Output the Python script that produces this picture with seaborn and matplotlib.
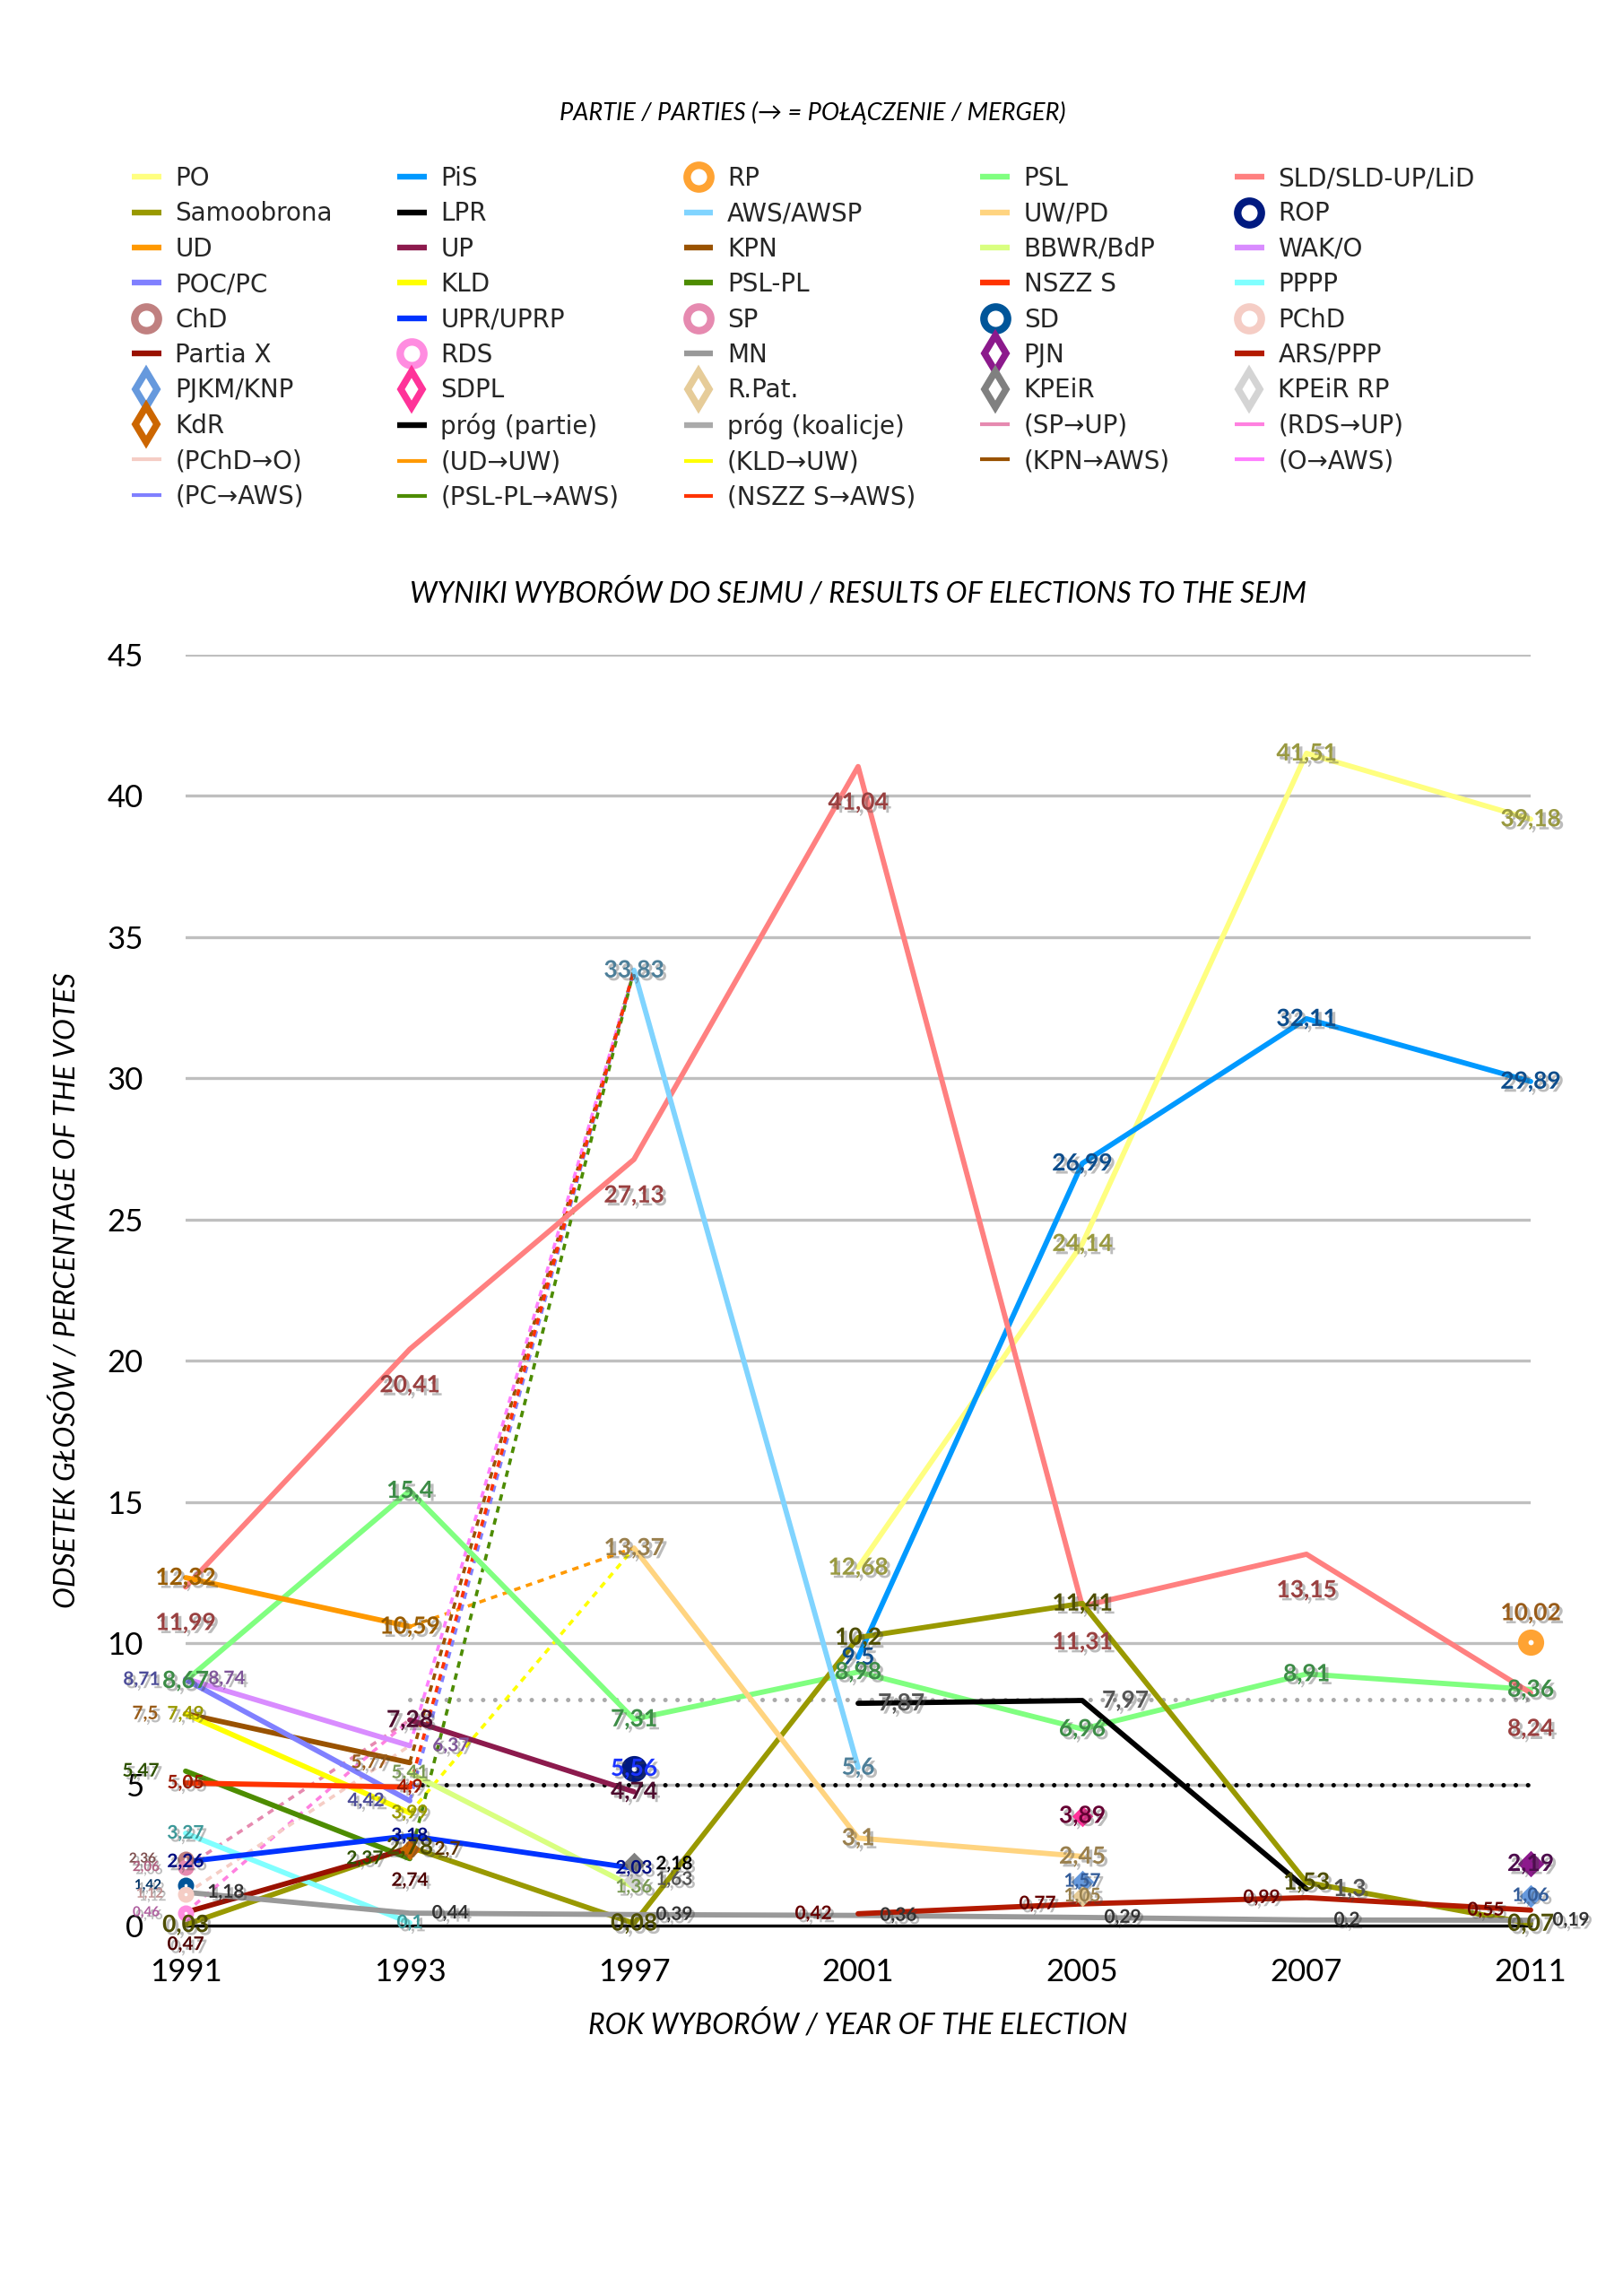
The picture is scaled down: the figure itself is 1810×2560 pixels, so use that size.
import matplotlib
matplotlib.use("Agg")
import matplotlib.pyplot as plt
import matplotlib.patheffects as pe
from matplotlib.lines import Line2D
from matplotlib import font_manager
import pandas as pd
import seaborn as sns

# --- data: percentage of votes, one slot per election year (None = did not run) ---
years = [1991, 1993, 1997, 2001, 2005, 2007, 2011]

po = [None, None, None, 12.68, 24.14, 41.51, 39.18]
pis = [None, None, None, 9.5, 26.99, 32.11, 29.89]
psl = [8.67, 15.4, 7.31, 8.98, 6.96, 8.91, 8.36]
sld = [11.99, 20.41, 27.13, 41.04, 11.31, 13.15, 8.24]
samoobrona = [0.03, 2.78, 0.08, 10.2, 11.41, 1.53, 0.07]
lpr = [None, None, None, 7.87, 7.97, 1.3, None]
aws = [None, None, 33.83, 5.6, None, None, None]
uw = [None, None, 13.37, 3.1, 2.45, None, None]
ud = [12.32, 10.59, None, None, None, None, None]
up = [None, 7.28, 4.74, None, None, None, None]
kpn = [7.5, 5.77, None, None, None, None, None]
bbwr = [None, 5.41, 1.36, None, None, None, None]
wak = [8.74, 6.37, None, None, None, None, None]
poc = [8.71, 4.42, None, None, None, None, None]
kld = [7.49, 3.99, None, None, None, None, None]
psl_pl = [5.47, 2.37, None, None, None, None, None]
nszz = [5.05, 4.9, None, None, None, None, None]
pppp = [3.27, 0.1, None, None, None, None, None]
upr = [2.26, 3.18, 2.03, None, None, None, None]
partia_x = [0.47, 2.74, None, None, None, None, None]
mn = [1.18, 0.44, 0.39, 0.36, 0.29, 0.2, 0.19]
ars = [None, None, None, 0.42, 0.77, 0.99, 0.55]

rp = [None, None, None, None, None, None, 10.02]
rop = [None, None, 5.56, None, None, None, None]
chd = [2.36, None, None, None, None, None, None]
sp = [2.06, None, None, None, None, None, None]
sd = [1.42, None, None, None, None, None, None]
pchd = [1.12, None, None, None, None, None, None]
rds = [0.46, None, None, None, None, None, None]
pjn = [None, None, None, None, None, None, 2.19]
pjkm = [None, None, None, None, 1.57, None, 1.06]
sdpl = [None, None, None, None, 3.89, None, None]
rpat = [None, None, None, None, 1.05, None, None]
kpeir = [None, None, 2.18, None, None, None, None]
kpeir_rp = [None, None, 1.63, None, None, None, None]
kdr = [None, 2.7, None, None, None, None, None]

prog_partie = [None, 5, 5, 5, 5, 5, 5]
prog_koalicje = [None, 8, 8, 8, 8, 8, 8]

BIG, MED, SMALL = 19, 15, 11

# name, values, line colour, label colour, label size, label offset (px: right, down)
line_series = [
    ("PO", po, "#ffff80", "#999940", BIG, (0, 0)),
    ("PiS", pis, "#0099ff", "#0d4d8c", BIG, (0, 0)),
    ("PSL", psl, "#80ff80", "#3d8c47", BIG, (0, 0)),
    ("SLD/SLD-UP/LiD", sld, "#ff8080", "#994040", BIG, (0, 40)),
    ("Samoobrona", samoobrona, "#999900", "#4d4d00", BIG, (0, 0)),
    ("LPR", lpr, "#000000", "#555555", BIG, (48, 0)),
    ("AWS/AWSP", aws, "#80d4ff", "#4d7f99", BIG, (0, 0)),
    ("UW/PD", uw, "#ffd480", "#997f4d", BIG, (0, 0)),
    ("UD", ud, "#ff9900", "#995c00", BIG, (0, 0)),
    ("UP", up, "#8c1a4d", "#4d0d2e", BIG, (0, 0)),
    ("KPN", kpn, "#995200", "#995c1a", MED, (-45, 0)),
    ("BBWR/BdP", bbwr, "#d9ff80", "#7a9955", MED, (0, 0)),
    ("WAK/O", wak, "#d98cff", "#7f5599", MED, (46, 0)),
    ("POC/PC", poc, "#8080ff", "#4d4d99", MED, (-49, 0)),
    ("KLD", kld, "#ffff00", "#999900", MED, (0, 0)),
    ("PSL-PL", psl_pl, "#4d8c00", "#2e5200", MED, (-50, 0)),
    ("NSZZ S", nszz, "#ff3300", "#991a00", MED, (0, 0)),
    ("PPPP", pppp, "#80ffff", "#3d9999", MED, (0, 0)),
    ("UPR/UPRP", upr, "#0033ff", "#000d80", MED, (0, 0)),
    ("Partia X", partia_x, "#991100", "#4d0000", MED, (0, 36)),
    ("MN", mn, "#999999", "#333333", MED, (45, 0)),
    ("ARS/PPP", ars, "#b31a00", "#660000", MED, (-50, 0)),
]

# name, values, marker, colour, label colour, label size, label offset, marker size
marker_series = [
    ("RP", rp, "o", "#ffa333", "#995c1a", BIG, (0, -33), 21),
    ("ROP", rop, "o", "#001a80", "#1a33ff", BIG, (0, 0), 21),
    ("ChD", chd, "o", "#c08080", "#805050", SMALL, (-48, 0), 13),
    ("SP", sp, "o", "#e68ab0", "#b06080", SMALL, (-44, 0), 13),
    ("SD", sd, "o", "#005599", "#003366", SMALL, (-42, 0), 13),
    ("PChD", pchd, "o", "#f5cdc5", "#c09090", SMALL, (-40, 0), 13),
    ("RDS", rds, "o", "#ff8ce0", "#b060a0", SMALL, (-44, 0), 13),
    ("PJN", pjn, "D", "#8c1a8c", "#4d0d4d", BIG, (0, 0), 15),
    ("PJKM/KNP", pjkm, "D", "#6699dd", "#335c99", MED, (0, 0), 13),
    ("SDPL", sdpl, "D", "#ff3399", "#660033", BIG, (0, 0), 12),
    ("R.Pat.", rpat, "D", "#e6cc99", "#99804d", MED, (0, 0), 12),
    ("KPEiR", kpeir, "D", "#808080", "#000000", MED, (45, 0), 13),
    ("KPEiR RP", kpeir_rp, "D", "#d4d4d4", "#555555", MED, (45, 0), 12),
    ("KdR", kdr, "D", "#cc6600", "#5c3300", MED, (42, 0), 12),
]

# merger links: label, from-series, from-index, to-series, to-index, colour
mergers = [
    ("(SP→UP)", sp, 0, up, 1, "#e68ab0"),
    ("(RDS→UP)", rds, 0, up, 1, "#ff80e0"),
    ("(PChD→O)", pchd, 0, wak, 1, "#f5cdc5"),
    ("(UD→UW)", ud, 1, uw, 2, "#ff9900"),
    ("(KLD→UW)", kld, 1, uw, 2, "#ffff00"),
    ("(KPN→AWS)", kpn, 1, aws, 2, "#995200"),
    ("(O→AWS)", wak, 1, aws, 2, "#ff80ff"),
    ("(PC→AWS)", poc, 1, aws, 2, "#8080ff"),
    ("(PSL-PL→AWS)", psl_pl, 1, aws, 2, "#4d8c00"),
    ("(NSZZ S→AWS)", nszz, 1, aws, 2, "#ff3300"),
]

sns.set_theme(style="white")
plt.rcParams['font.family'] = ['DejaVu Sans']
available = {f.name for f in font_manager.fontManager.ttflist}
NARROW = "Liberation Sans Narrow" if "Liberation Sans Narrow" in available else "Lato"
HEAD = 25 if NARROW.startswith("Liberation") else 23

fig = plt.figure(figsize=(18.1, 25.6), dpi=100)
fig.patch.set_facecolor("white")
ax = fig.add_axes([207 / 1810, 413 / 2560, 1500 / 1810, 1417 / 2560])


def points(vals):
    return pd.DataFrame({"x": range(len(years)), "y": vals}).dropna()


def fmt(v):
    return f"{v:g}".replace(".", ",")


shadow = [pe.withSimplePatchShadow(offset=(2.5, -2.5), shadow_rgbFace="0.25", alpha=0.35)]


def put_labels(vals, color, size, off):
    d = points(vals)
    for x, y in zip(d["x"], d["y"]):
        ax.annotate(fmt(y), (x, y), xytext=(off[0] * 0.72, -off[1] * 0.72),
                    textcoords="offset points", ha="center", va="center",
                    fontsize=size, fontweight="bold", family="Lato", color=color,
                    zorder=10, annotation_clip=False, path_effects=shadow)


# thresholds
sns.lineplot(data=points(prog_koalicje), x="x", y="y", color="#aaaaaa", lw=3.6,
             linestyle=(0, (0.01, 2.7)), dash_capstyle="round", ax=ax, zorder=2)
sns.lineplot(data=points(prog_partie), x="x", y="y", color="black", lw=3.6,
             linestyle=(0, (0.01, 2.7)), dash_capstyle="round", ax=ax, zorder=2)

# merger links
for name, a, ia, b, ib, c in mergers:
    d = pd.DataFrame({"x": [ia, ib], "y": [a[ia], b[ib]]})
    sns.lineplot(data=d, x="x", y="y", color=c, lw=2.6, linestyle=(0, (2, 1.8)),
                 ax=ax, zorder=2.5, estimator=None, sort=False)

# party lines
for name, vals, c, lc, size, off in line_series:
    sns.lineplot(data=points(vals), x="x", y="y", color=c, lw=4.2, ax=ax,
                 estimator=None, sort=False, zorder=3)
    ax.lines[-1].set_clip_on(False)
    put_labels(vals, lc, size, off)

# single-point parties
for name, vals, m, c, lc, size, off, ms in marker_series:
    sns.scatterplot(data=points(vals), x="x", y="y", marker=m, s=ms ** 2, color=c,
                    edgecolor=c, linewidth=0, ax=ax, zorder=4, legend=False)
    ax.collections[-1].set_clip_on(False)
    if m == "o":
        sns.scatterplot(data=points(vals), x="x", y="y", marker="o", s=(ms * 0.2) ** 2,
                        color="white", linewidth=0, ax=ax, zorder=4.5, legend=False)
        ax.collections[-1].set_clip_on(False)
    put_labels(vals, lc, size, off)

ax.axhline(0, color="black", lw=2.4, zorder=1.5, clip_on=False)
ax.set_xlim(0, len(years) - 1)
ax.set_ylim(0, 45)
ax.set_xticks(range(len(years)))
ax.set_xticklabels(years)
ax.set_yticks(range(0, 46, 5))
ax.yaxis.grid(True, color="#bfbfbf", lw=2.4)
ax.xaxis.grid(False)
ax.set_axisbelow(True)
for s in ax.spines.values():
    s.set_visible(False)
ax.tick_params(axis="x", length=0, pad=26, labelsize=25, labelcolor="black")
ax.tick_params(axis="y", length=0, pad=34, labelsize=25, labelcolor="black")
for t in ax.get_xticklabels() + ax.get_yticklabels():
    t.set_fontfamily("Lato")
    t.set_fontweight("normal")
    t.set_color("black")

ax.set_xlabel("ROK WYBORÓW / YEAR OF THE ELECTION", fontsize=HEAD, style="italic",
              family=NARROW, va="center", color="black")
ax.xaxis.set_label_coords(0.5, -110 / 1417)
ax.set_ylabel("ODSETEK GŁOSÓW / PERCENTAGE OF THE VOTES", fontsize=HEAD, style="italic",
              family=NARROW, va="center", color="black")
ax.yaxis.set_label_coords(-134 / 1500, 0.5)
ax.set_title("WYNIKI WYBORÓW DO SEJMU / RESULTS OF ELECTIONS TO THE SEJM", fontsize=HEAD,
             style="italic", family=NARROW, y=1 + 69 / 1417, va="center", pad=0,
             color="black")

fig.text(906 / 1810, 1 - 126 / 2560, "PARTIE / PARTIES (→ = POŁĄCZENIE / MERGER)",
         ha="center", va="center", fontsize=HEAD * 0.85, style="italic",
         family=[NARROW, "DejaVu Sans"], color="black")

# legend, filled row by row like the original
styles = {n: ("line", c) for n, _, c, *_ in line_series}
styles.update({n: ("ring" if m == "o" else "diamond", c) for n, _, m, c, *_ in marker_series})
styles["próg (partie)"] = ("line", "#000000")
styles["próg (koalicje)"] = ("line", "#aaaaaa")
styles.update({n: ("thin", c) for n, *_, c in mergers})

legend_rows = [
    "PO", "PiS", "RP", "PSL", "SLD/SLD-UP/LiD",
    "Samoobrona", "LPR", "AWS/AWSP", "UW/PD", "ROP",
    "UD", "UP", "KPN", "BBWR/BdP", "WAK/O",
    "POC/PC", "KLD", "PSL-PL", "NSZZ S", "PPPP",
    "ChD", "UPR/UPRP", "SP", "SD", "PChD",
    "Partia X", "RDS", "MN", "PJN", "ARS/PPP",
    "PJKM/KNP", "SDPL", "R.Pat.", "KPEiR", "KPEiR RP",
    "KdR", "próg (partie)", "próg (koalicje)", "(SP→UP)", "(RDS→UP)",
    "(PChD→O)", "(UD→UW)", "(KLD→UW)", "(KPN→AWS)", "(O→AWS)",
    "(PC→AWS)", "(PSL-PL→AWS)", "(NSZZ S→AWS)",
]


def handle(kind, c):
    if kind == "line":
        return Line2D([0], [0], color=c, lw=4.6, solid_capstyle="butt")
    if kind == "thin":
        return Line2D([0], [0], color=c, lw=3, solid_capstyle="butt")
    if kind == "ring":
        return Line2D([], [], ls="none", marker="o", ms=19, mfc="white", mec=c, mew=6)
    return Line2D([], [], ls="none", marker="d", ms=20, mfc="white", mec=c, mew=5.5)


ncol = 5
order = [i for col in range(ncol) for i in range(col, len(legend_rows), ncol)]
handles = [handle(*styles[legend_rows[i]]) for i in order]
labels = [legend_rows[i] for i in order]
fig.legend(handles, labels, ncol=ncol, loc="upper left",
           bbox_to_anchor=(147 / 1810, 1 - 185 / 2560), frameon=False, fontsize=20,
           handlelength=1.17, handletextpad=0.57, columnspacing=2.6,
           labelspacing=0.41, borderpad=0, borderaxespad=0)

fig.savefig("out.png", dpi=100, facecolor="white")
plt.close(fig)
